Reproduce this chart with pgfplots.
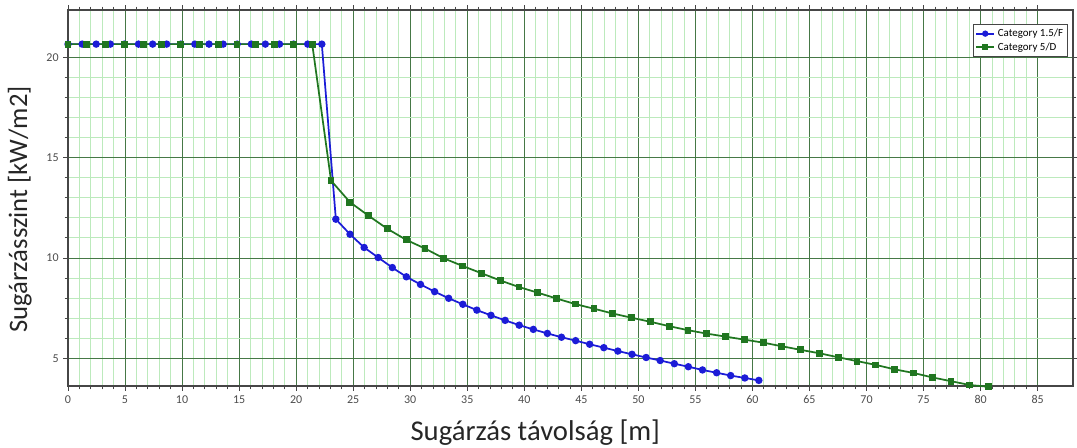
\documentclass[border=0pt]{standalone}
\usepackage{pgfplots}
\pgfplotsset{compat=1.18}
\usepackage{pgfplotstable}
\usepackage{fontspec}
\setmainfont{Carlito}

\definecolor{serblue}{RGB}{28,28,215}
\definecolor{sergreen}{RGB}{32,118,32}
\definecolor{majgrid}{RGB}{70,120,70}
\definecolor{mingrid}{RGB}{188,234,188}
\definecolor{axgray}{RGB}{70,70,70}

% Category 1.5/F
\pgfplotstableread{
x y
0.00 20.65
1.24 20.65
2.47 20.65
3.71 20.65
4.94 20.65
6.18 20.65
7.42 20.65
8.65 20.65
9.89 20.65
11.12 20.65
12.36 20.65
13.60 20.65
14.83 20.65
16.07 20.65
17.30 20.65
18.54 20.65
19.78 20.65
21.01 20.65
22.25 20.65
23.48 11.93
24.72 11.18
25.96 10.52
27.19 10.02
28.43 9.52
29.66 9.06
30.90 8.68
32.14 8.32
33.37 7.99
34.61 7.69
35.84 7.40
37.08 7.14
38.32 6.89
39.55 6.65
40.79 6.44
42.02 6.24
43.26 6.05
44.50 5.88
45.73 5.70
46.97 5.53
48.20 5.36
49.44 5.20
50.68 5.04
51.91 4.89
53.15 4.73
54.38 4.58
55.62 4.42
56.86 4.28
58.09 4.14
59.33 4.02
60.56 3.90
}\catF

% Category 5/D
\pgfplotstableread{
x y
0.00 20.65
1.65 20.65
3.29 20.65
4.94 20.65
6.59 20.65
8.23 20.65
9.88 20.65
11.53 20.65
13.17 20.65
14.82 20.65
16.47 20.65
18.11 20.65
19.76 20.65
21.41 20.65
23.06 13.85
24.71 12.78
26.35 12.10
28.00 11.45
29.65 10.90
31.29 10.47
32.94 9.98
34.59 9.60
36.23 9.24
37.88 8.88
39.53 8.55
41.17 8.27
42.82 7.98
44.47 7.70
46.11 7.47
47.76 7.23
49.41 7.02
51.05 6.82
52.70 6.60
54.35 6.40
55.99 6.23
57.64 6.08
59.29 5.93
60.94 5.78
62.58 5.60
64.23 5.42
65.88 5.25
67.52 5.05
69.17 4.86
70.82 4.67
72.46 4.45
74.11 4.27
75.76 4.05
77.40 3.86
79.05 3.67
80.70 3.58
}\catD

\begin{document}
\begin{tikzpicture}
\begin{axis}[
  at={(0,0)}, anchor=south west,
  scale only axis,
  width=753.75pt, height=282pt,
  xmin=0, xmax=88.1, ymin=3.62, ymax=22.35,
  xtick={0,5,...,85}, ytick={5,10,15,20},
  minor x tick num=4, minor y tick num=4,
  grid=both,
  major grid style={majgrid, line width=0.6pt},
  minor grid style={mingrid, line width=0.6pt},
  axis line style={axgray, line width=0.8pt},
  tick align=outside,
  major tick length=3.5pt, minor tick length=2.5pt,
  tick style={axgray, line width=0.6pt},
  ticklabel style={font=\fontsize{9pt}{10pt}\selectfont, text=black!70},
  /pgf/number format/assume math mode=true,
  xlabel={Sugárzás távolság [m]},
  ylabel={Sugárzásszint [kW/m2]},
  label style={text=black!85},
  xlabel style={font=\fontsize{21.5pt}{23pt}\selectfont,
    at={(axis description cs:0.465,0)}, anchor=center, yshift=-35pt},
  ylabel style={font=\fontsize{20pt}{22pt}\selectfont,
    at={(axis description cs:-0.048,0.47)}, anchor=center},
  legend style={at={(rel axis cs:0.995,0.963)}, anchor=north east,
    font=\fontsize{8.2pt}{9pt}\selectfont, draw=axgray, fill=white,
    inner sep=1.5pt, row sep=-1pt, legend cell align=left},
  legend image post style={scale=0.8},
  clip=false,
]
\addplot[serblue, line width=1.3pt, mark=*, mark size=2.1pt, mark options={fill=serblue}]
  table[x=x, y=y] {\catF};
\addlegendentry{Category 1.5/F}
\addplot[sergreen, line width=1.3pt, mark=square*, mark size=1.9pt, mark options={fill=sergreen}]
  table[x=x, y=y] {\catD};
\addlegendentry{Category 5/D}
\end{axis}
\pgfresetboundingbox
\path (-51pt,-45.75pt) rectangle (756.75pt,289.5pt);
\end{tikzpicture}
\end{document}
